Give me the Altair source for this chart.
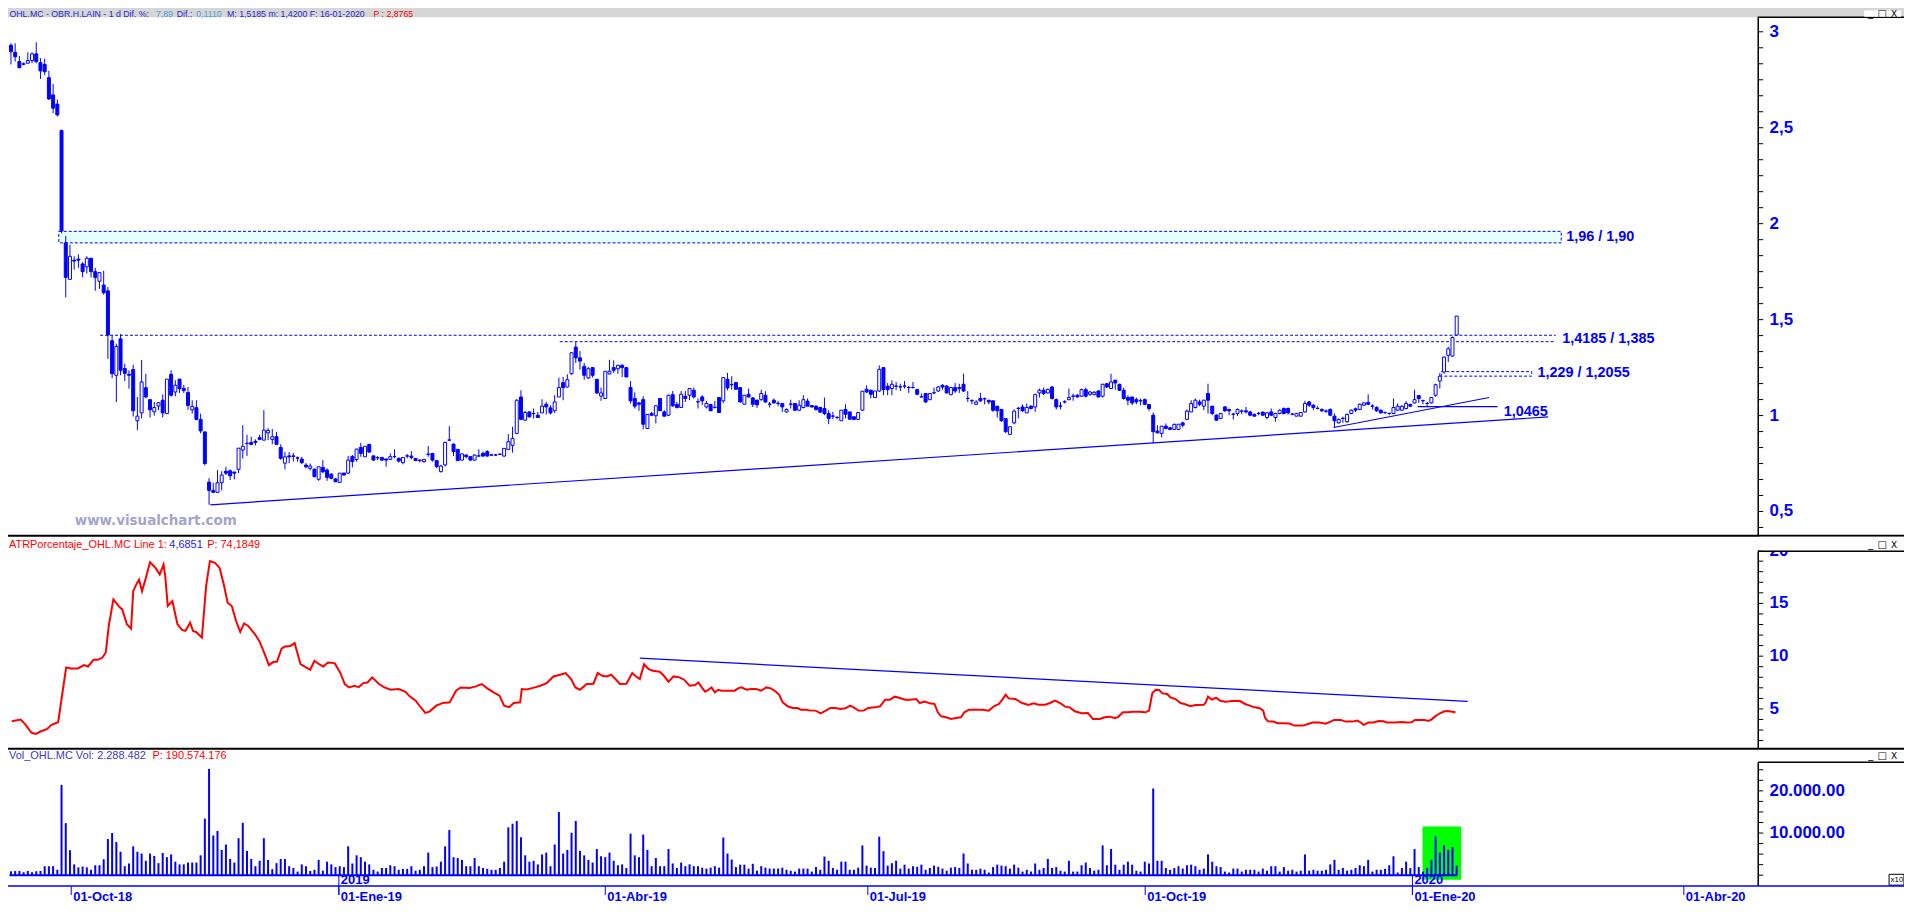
import altair as alt
import pandas as pd

# ---------------- data ----------------
price_open = [
2.930,2.893,2.845,2.833,2.836,2.850,2.885,2.839,2.830,2.761,
2.671,2.623,2.486,1.900,1.710,1.810,1.815,1.790,1.775,1.820,
1.750,1.700,1.680,1.650,1.390,1.210,1.400,1.245,1.215,1.240,
0.973,1.014,1.145,1.083,1.020,1.050,1.080,1.010,1.215,1.123,
1.190,1.142,1.120,1.030,1.041,0.980,0.915,0.653,0.610,0.600,
0.650,0.710,0.712,0.706,0.720,0.820,0.855,0.860,0.866,0.885,
0.872,0.910,0.876,0.890,0.834,0.752,0.790,0.790,0.780,0.773,
0.742,0.725,0.720,0.668,0.730,0.716,0.695,0.670,0.652,0.700,
0.700,0.787,0.771,0.834,0.785,0.850,0.790,0.781,0.782,0.774,
0.772,0.787,0.777,0.755,0.790,0.789,0.777,0.768,0.760,0.799,
0.803,0.765,0.708,0.743,0.873,0.851,0.824,0.768,0.794,0.786,
0.768,0.790,0.803,0.812,0.795,0.795,0.799,0.789,0.824,0.845,
0.907,1.097,0.976,1.019,1.011,1.002,1.014,1.059,1.040,1.025,
1.097,1.172,1.149,1.218,1.357,1.301,1.256,1.196,1.250,1.189,
1.102,1.089,1.217,1.250,1.244,1.262,1.250,1.146,1.089,1.066,
1.083,0.933,1.011,0.999,1.089,1.019,1.002,1.109,1.058,1.042,
1.101,1.106,1.132,1.072,1.097,1.045,1.058,1.043,1.094,1.077,
1.189,1.162,1.172,1.146,1.059,1.111,1.092,1.080,1.083,1.106,
1.060,1.080,1.064,1.063,1.019,1.060,1.063,1.028,1.042,1.075,
1.052,1.049,1.042,1.037,1.011,0.998,0.991,0.973,1.032,1.019,
0.994,0.980,1.028,1.137,1.132,1.094,1.128,1.250,1.153,1.141,
1.154,1.150,1.154,1.147,1.147,1.135,1.098,1.115,1.083,1.119,
1.128,1.158,1.154,1.109,1.146,1.146,1.163,1.090,1.078,1.059,
1.089,1.088,1.080,1.077,1.049,1.032,0.985,0.902,0.962,1.038,
1.045,1.014,1.049,1.045,1.118,1.132,1.118,1.149,1.083,1.050,
1.072,1.083,1.102,1.106,1.101,1.135,1.111,1.109,1.128,1.101,
1.166,1.141,1.184,1.163,1.132,1.094,1.097,1.083,1.078,1.083,
1.058,1.002,0.919,0.907,0.945,0.936,0.928,0.928,0.962,0.980,
1.019,1.042,1.071,1.049,1.115,1.049,1.002,0.985,1.045,1.032,
1.008,1.011,1.024,1.025,1.019,1.006,1.012,1.018,0.990,1.019,
0.990,1.011,1.037,1.037,1.008,0.997,0.997,1.019,1.071,1.054,
1.038,1.032,1.024,1.032,0.997,0.962,0.986,0.968,1.011,1.035,
1.032,1.054,1.068,1.050,1.042,1.028,1.017,1.012,1.011,1.028,
1.028,1.037,1.058,1.066,1.104,1.078,1.064,1.066,1.106,1.180,
1.227,1.314,1.310,1.420]

price_high = [
2.940,2.940,2.874,2.840,2.893,2.893,2.945,2.862,2.860,2.797,
2.728,2.647,2.490,1.936,1.890,1.830,1.840,1.800,1.830,1.820,
1.770,1.745,1.755,1.670,1.420,1.375,1.425,1.270,1.236,1.265,
1.097,1.290,1.218,1.083,1.070,1.070,1.110,1.190,1.236,1.184,
1.190,1.160,1.149,1.080,1.080,1.010,0.915,0.674,0.650,0.716,
0.710,0.733,0.720,0.706,0.830,0.950,0.900,0.890,0.876,0.900,
1.028,0.935,0.930,0.915,0.850,0.810,0.810,0.805,0.787,0.785,
0.752,0.750,0.725,0.733,0.768,0.725,0.700,0.672,0.700,0.703,
0.790,0.795,0.828,0.858,0.840,0.850,0.790,0.789,0.782,0.774,
0.803,0.824,0.782,0.782,0.800,0.815,0.777,0.772,0.772,0.841,
0.803,0.765,0.743,0.864,0.945,0.855,0.824,0.803,0.800,0.786,
0.798,0.824,0.812,0.820,0.800,0.800,0.803,0.829,0.903,0.942,
1.085,1.132,1.025,1.023,1.037,1.019,1.085,1.071,1.054,1.106,
1.198,1.201,1.215,1.331,1.383,1.336,1.274,1.253,1.250,1.189,
1.146,1.231,1.291,1.288,1.265,1.267,1.250,1.180,1.121,1.071,
1.101,1.006,1.019,1.054,1.089,1.028,1.109,1.128,1.071,1.128,
1.128,1.141,1.146,1.089,1.106,1.077,1.058,1.077,1.097,1.198,
1.222,1.205,1.175,1.146,1.106,1.141,1.097,1.083,1.135,1.127,
1.071,1.089,1.077,1.066,1.037,1.083,1.063,1.080,1.106,1.089,
1.054,1.054,1.045,1.094,1.028,1.019,0.997,1.028,1.059,1.019,
0.994,1.019,1.127,1.158,1.135,1.128,1.262,1.250,1.170,1.184,
1.175,1.166,1.180,1.153,1.175,1.141,1.115,1.115,1.118,1.146,
1.153,1.163,1.158,1.146,1.170,1.166,1.218,1.127,1.085,1.080,
1.118,1.094,1.080,1.077,1.049,1.032,0.985,0.942,1.032,1.045,
1.059,1.063,1.054,1.115,1.141,1.146,1.141,1.153,1.089,1.071,
1.080,1.141,1.115,1.111,1.141,1.146,1.128,1.128,1.132,1.166,
1.170,1.218,1.187,1.166,1.146,1.106,1.097,1.094,1.089,1.089,
1.058,1.016,0.950,0.945,0.959,0.942,0.959,0.955,0.968,1.032,
1.080,1.089,1.083,1.083,1.166,1.049,1.007,1.014,1.049,1.035,
1.014,1.037,1.032,1.045,1.025,1.011,1.019,1.021,1.019,1.037,
1.014,1.032,1.042,1.042,1.014,1.014,1.019,1.077,1.077,1.059,
1.049,1.037,1.032,1.037,1.011,0.985,0.994,1.011,1.032,1.042,
1.063,1.068,1.111,1.059,1.049,1.032,1.019,1.014,1.089,1.063,
1.054,1.075,1.063,1.135,1.104,1.083,1.071,1.097,1.166,1.222,
1.308,1.360,1.412,1.5185]

price_low = [
2.830,2.845,2.810,2.825,2.836,2.836,2.836,2.754,2.775,2.645,
2.576,2.559,1.950,1.616,1.710,1.760,1.770,1.720,1.740,1.720,
1.650,1.660,1.630,1.296,1.195,1.070,1.210,1.180,1.140,0.995,
0.924,0.985,1.090,0.990,1.000,1.028,0.990,1.010,1.100,1.100,
1.118,1.118,1.030,1.010,0.976,0.907,0.740,0.535,0.600,0.600,
0.610,0.690,0.664,0.668,0.700,0.776,0.790,0.845,0.845,0.872,
0.872,0.872,0.850,0.850,0.770,0.720,0.752,0.762,0.760,0.747,
0.725,0.714,0.678,0.660,0.700,0.660,0.668,0.655,0.648,0.688,
0.695,0.730,0.760,0.785,0.785,0.806,0.765,0.768,0.763,0.734,
0.768,0.777,0.755,0.746,0.777,0.772,0.765,0.756,0.755,0.786,
0.760,0.725,0.703,0.734,0.869,0.789,0.765,0.765,0.777,0.765,
0.765,0.786,0.786,0.786,0.789,0.789,0.794,0.786,0.820,0.807,
0.904,0.980,0.973,0.988,0.985,0.988,1.014,1.006,1.006,1.014,
1.097,1.080,1.146,1.213,1.274,1.239,1.187,1.191,1.198,1.111,
1.077,1.089,1.215,1.222,1.218,1.201,1.201,1.063,1.037,1.025,
0.928,0.933,0.997,0.959,1.025,0.994,0.997,1.045,1.037,1.042,
1.071,1.080,1.089,1.037,1.054,1.037,1.025,1.037,1.014,1.066,
1.132,1.135,1.135,1.068,1.059,1.094,1.045,1.040,1.077,1.066,
1.042,1.063,1.049,1.019,1.016,1.037,1.023,1.023,1.037,1.049,
1.042,1.025,1.014,1.002,0.955,0.981,0.980,0.973,0.985,0.980,
0.980,0.980,1.025,1.118,1.089,1.092,1.123,1.106,1.106,1.106,
1.132,1.128,1.141,1.118,1.141,1.106,1.094,1.066,1.080,1.111,
1.123,1.135,1.115,1.106,1.118,1.118,1.123,1.071,1.059,1.054,
1.071,1.059,1.059,1.019,0.990,0.968,0.910,0.898,0.955,0.985,
1.019,1.014,1.032,1.019,1.094,1.106,1.115,1.083,1.032,1.032,
1.063,1.080,1.077,1.094,1.097,1.094,1.102,1.106,1.094,1.094,
1.144,1.141,1.135,1.128,1.083,1.054,1.054,1.059,1.054,1.054,
1.025,0.855,0.907,0.886,0.928,0.924,0.924,0.924,0.938,0.976,
1.019,1.037,1.049,1.028,1.011,1.002,0.973,0.981,1.019,1.002,
0.980,0.997,1.007,1.011,0.997,0.994,1.002,0.997,0.981,0.997,
0.968,1.006,1.006,1.006,1.002,0.997,0.994,1.016,1.045,1.028,
1.032,1.019,1.014,0.997,0.938,0.959,0.962,0.962,1.007,1.019,
1.028,1.049,1.054,1.032,1.019,1.011,1.007,1.002,1.007,1.025,
1.025,1.032,1.045,1.063,1.066,1.059,1.049,1.063,1.097,1.141,
1.218,1.279,1.308,1.420]

price_close = [
2.896,2.870,2.813,2.831,2.850,2.885,2.845,2.796,2.792,2.650,
2.602,2.567,1.962,1.720,1.830,1.805,1.810,1.750,1.820,1.750,
1.720,1.745,1.640,1.420,1.218,1.360,1.236,1.220,1.210,1.025,
0.997,1.175,1.097,1.030,1.042,1.067,1.014,1.190,1.106,1.158,
1.140,1.130,1.053,1.048,0.980,0.920,0.750,0.610,0.600,0.650,
0.690,0.700,0.686,0.700,0.830,0.840,0.854,0.850,0.860,0.876,
0.924,0.922,0.890,0.850,0.777,0.785,0.785,0.787,0.778,0.755,
0.733,0.737,0.682,0.733,0.707,0.678,0.673,0.655,0.700,0.690,
0.768,0.760,0.825,0.803,0.840,0.810,0.768,0.780,0.768,0.768,
0.786,0.786,0.763,0.782,0.789,0.782,0.765,0.765,0.772,0.798,
0.768,0.734,0.737,0.860,0.872,0.812,0.765,0.800,0.786,0.768,
0.794,0.789,0.789,0.789,0.794,0.794,0.798,0.829,0.864,0.881,
1.080,0.980,1.016,0.994,1.010,0.990,1.049,1.045,1.014,1.071,
1.146,1.146,1.187,1.327,1.301,1.284,1.210,1.244,1.210,1.118,
1.118,1.231,1.231,1.236,1.262,1.250,1.201,1.077,1.049,1.059,
0.955,1.006,1.002,1.051,1.025,0.997,1.106,1.051,1.042,1.111,
1.089,1.141,1.097,1.071,1.077,1.063,1.025,1.042,1.016,1.198,
1.144,1.161,1.137,1.071,1.106,1.097,1.059,1.056,1.115,1.071,
1.059,1.066,1.063,1.045,1.032,1.059,1.028,1.054,1.083,1.049,
1.045,1.032,1.018,1.011,0.985,0.997,0.990,1.028,1.007,0.981,
0.980,1.016,1.127,1.123,1.111,1.128,1.241,1.135,1.135,1.163,
1.153,1.149,1.153,1.146,1.146,1.111,1.097,1.071,1.115,1.118,
1.149,1.149,1.118,1.146,1.128,1.141,1.128,1.089,1.077,1.071,
1.077,1.087,1.071,1.028,1.025,0.973,0.916,0.942,1.023,1.037,
1.025,1.042,1.037,1.109,1.132,1.115,1.137,1.089,1.045,1.049,
1.071,1.094,1.101,1.097,1.135,1.101,1.123,1.121,1.097,1.163,
1.149,1.175,1.170,1.132,1.089,1.080,1.066,1.071,1.077,1.059,
1.037,0.916,0.910,0.945,0.933,0.928,0.954,0.955,0.950,1.023,
1.063,1.080,1.059,1.080,1.080,1.011,0.976,1.011,1.025,1.025,
1.007,1.032,1.023,1.019,1.002,0.997,1.011,1.002,1.014,1.002,
1.011,1.028,1.011,1.014,1.007,1.011,1.016,1.063,1.054,1.042,
1.037,1.025,1.023,1.002,0.973,0.980,0.985,1.006,1.028,1.028,
1.059,1.066,1.059,1.049,1.025,1.014,1.016,1.011,1.042,1.049,
1.049,1.063,1.049,1.083,1.089,1.077,1.063,1.094,1.161,1.205,
1.305,1.348,1.407,1.5185]

# volume, thousands of shares, one bar per session
volume_k = [
930,1000,1000,710,1000,710,930,1000,2140,2140,
2140,1290,21420,12350,5930,2570,1860,2070,1860,1290,
2360,2360,3780,8570,10000,7850,5570,2140,2780,6850,
5570,5140,3430,5140,4570,2860,5280,4280,4930,3210,
2570,2570,3000,3000,3000,4710,13420,25200,9420,10500,
6000,7280,3860,3000,8780,12420,5780,3860,2140,3430,
8780,3640,1430,2860,3860,3860,2140,1710,860,2570,
2140,1000,1290,3640,1070,3210,2570,1930,2140,1930,
6850,2780,4710,4280,3210,2570,1290,860,1710,1710,
2360,2140,1290,1500,1500,2140,1070,1290,2140,5360,
1930,2070,3210,6850,10710,4280,4070,3640,2140,2140,
4070,2140,1710,1500,1290,1290,1710,3210,11350,12210,
12850,9000,4710,3210,3430,2570,4930,5360,2140,7280,
14990,5140,6000,10070,12850,5780,4710,3640,3000,6210,
4500,4280,5360,3430,2360,2570,1710,9850,4710,4280,
9640,6000,2140,4070,2140,2140,6210,2780,1710,3000,
2140,2570,2140,2140,1790,1570,1790,2140,1790,8930,
5140,3710,1930,2500,2500,1570,2710,1070,2140,1790,
1570,1570,1570,1790,1290,1070,860,1570,1570,1570,
860,1930,1290,4430,3430,1710,1290,3210,3210,1290,
1290,1790,7070,2280,1790,1710,9140,5710,2280,2860,
3430,1570,2500,1570,2140,2000,2500,1290,1710,2280,
2000,1570,1070,1790,1930,1710,5140,2780,1290,1290,
1570,1290,640,1930,2500,2280,2140,1570,2500,1790,
860,1290,860,2780,1290,1710,3860,1710,1930,1070,
860,3430,860,860,2360,3000,1710,1070,1290,7070,
2360,6210,2500,1290,2500,3210,2500,1070,860,3210,
2780,20560,3430,3430,1710,1290,1710,2140,1570,2360,
2500,2140,1290,1570,4930,3210,2140,1930,860,640,
1570,1570,860,1290,1290,1290,860,1570,1070,2140,
2140,860,1930,1070,1290,860,1070,4930,1070,1290,
1070,1070,1290,2570,3640,1290,1710,1070,1290,1710,
2360,2140,3640,860,1290,1290,1500,2360,4500,640,
1710,3210,1710,6210,1930,860,1710,3640,9210,5360,
7070,6000,6640,2290]

# ATR % line: vertices (session position, value)
atr_day = [
0.2,2.3,3.3,4.9,5.9,7.0,8.6,9.6,11.2,12.0,13.1,14.3,15.9,17.3,18.3,19.6,20.6,21.7,22.5,23.2,
24.3,25.7,26.4,27.5,28.5,29.0,29.8,30.4,31.1,31.9,33.0,34.3,35.3,36.2,36.6,37.2,38.3,39.5,40.6,41.4,
42.5,43.2,43.9,45.3,46.3,47.2,48.4,49.5,50.5,51.4,52.4,53.4,54.4,55.3,56.3,57.9,58.9,60.0,61.2,62.3,
63.1,64.2,65.0,66.3,67.3,68.7,70.0,71.0,72.0,73.1,74.1,75.2,76.8,78.1,79.2,80.2,81.5,82.5,83.6,84.6,
85.7,87.3,88.6,90.1,92.0,93.6,94.6,96.0,97.2,98.3,99.3,100.9,102.5,104.1,105.6,106.7,108.8,110.3,111.7,113.0,
114.5,115.9,117.0,118.2,119.3,120.8,121.2,122.4,124.3,125.6,127.1,128.7,130.3,131.6,132.9,133.9,135.0,136.6,138.2,139.2,
140.3,141.3,142.4,143.4,144.5,146.0,147.4,148.1,149.2,150.2,151.3,152.3,153.9,154.9,156.0,157.2,158.6,159.7,161.0,162.3,
163.1,163.9,164.7,165.5,166.2,167.0,167.8,168.6,170.2,171.7,172.5,173.3,174.5,175.6,176.8,178.0,179.2,180.3,181.5,182.3,
183.1,184.3,185.4,186.6,187.4,188.6,189.7,190.9,192.1,193.3,194.4,195.6,196.8,198.0,199.1,199.9,201.1,202.3,203.4,205.0,
206.2,207.4,208.5,209.7,210.9,212.1,213.2,214.8,215.6,216.8,218.0,219.1,219.9,220.7,221.9,223.0,224.2,225.4,226.2,227.3,
228.9,230.5,232.0,233.2,234.4,235.2,236.0,236.7,238.3,239.9,241.4,242.6,243.8,245.4,246.5,247.7,248.9,250.1,251.2,252.4,
254.0,255.5,256.7,258.3,259.5,260.6,261.8,262.6,263.8,265.0,266.1,267.7,269.2,270.0,270.8,271.6,272.4,273.2,274.3,275.1,
276.3,277.5,278.6,279.8,281.0,281.8,283.0,283.4,284.0,284.9,285.9,286.9,288.1,289.2,290.0,291.6,292.8,293.9,295.1,296.3,
297.1,297.5,298.2,299.4,300.6,301.8,303.3,304.5,306.5,307.6,308.8,310.4,311.9,313.1,313.9,315.5,316.6,318.2,319.4,320.2,
320.9,322.1,323.3,324.5,325.7,326.4,328.4,330.0,331.1,332.3,333.1,335.4,336.2,337.0,337.8,339.0,340.1,340.9,342.7]
atr_pct = [
3.84,3.99,3.58,2.74,2.64,2.86,3.11,3.49,3.74,5.94,8.93,8.84,8.84,9.15,9.02,9.65,9.65,9.87,10.35,12.86,
15.38,14.68,14.43,13.02,12.61,16.16,16.85,17.26,16.16,17.26,18.90,18.36,17.73,18.68,17.58,14.75,15.22,13.02,12.48,12.39,
13.17,12.39,12.29,11.76,16.63,19.00,18.84,18.36,16.79,15.06,14.75,13.33,12.29,13.11,12.86,12.07,11.45,10.41,9.15,9.46,
9.46,10.72,10.91,10.97,11.23,9.24,8.93,8.71,9.56,9.24,9.02,9.40,9.34,8.46,7.36,7.04,7.20,7.07,7.45,7.51,
7.99,7.36,7.04,6.82,6.89,6.63,6.19,5.79,5.16,4.62,4.75,5.31,5.57,5.63,6.73,7.04,6.98,7.14,7.36,6.95,
6.57,6.26,5.31,5.16,5.57,5.63,6.89,6.85,7.04,7.20,7.45,8.08,8.24,8.40,7.83,7.04,6.82,7.36,7.39,8.40,
8.14,8.08,8.24,7.83,7.36,7.39,8.40,8.14,7.83,9.24,8.77,8.62,8.52,8.14,7.58,8.08,7.99,7.77,7.20,7.26,
7.51,7.04,6.63,6.82,7.04,6.57,6.82,6.73,6.73,6.73,6.95,7.04,6.82,6.88,6.88,6.73,7.04,6.95,6.63,6.32,
5.62,5.25,5.09,5.09,4.93,4.93,4.84,4.84,4.59,4.84,5.09,5.09,5.00,5.06,5.31,5.15,4.84,4.84,5.09,5.15,
5.25,5.88,5.88,6.16,6.03,5.88,5.88,5.94,5.56,5.69,5.53,5.47,4.68,4.30,4.21,4.05,4.15,4.21,4.68,4.93,
4.93,4.93,4.84,5.25,5.47,5.88,6.35,6.00,5.94,5.56,5.37,5.53,5.40,5.40,5.56,5.78,5.56,5.22,5.15,4.78,
4.59,4.62,4.05,4.05,4.21,4.27,4.15,4.21,4.68,4.68,4.74,4.74,4.68,4.84,6.50,6.82,6.79,6.47,6.41,6.10,
5.94,5.56,5.44,5.25,5.37,5.37,5.40,5.56,6.16,5.88,6.06,5.78,5.69,5.72,5.78,5.75,5.47,5.31,5.15,5.06,
4.84,4.21,3.83,3.80,3.64,3.64,3.61,3.42,3.42,3.55,3.71,3.71,3.61,3.80,3.96,3.96,3.80,3.80,3.90,3.74,
3.49,3.71,3.71,3.86,3.83,3.71,3.71,3.77,3.71,3.74,3.96,3.96,3.86,3.99,4.27,4.59,4.78,4.81,4.69]

# drawn levels and trend lines
zone_labels = ["1,96 / 1,90", "1,4185 / 1,385", "1,229 / 1,2055", "1,0465"]
zone_hi = [1.96, 1.4185, 1.229]
zone_lo = [1.90, 1.385, 1.2055]
support_level = 1.0465

month_ticks = [14.3, 77.8, 141.0, 203.3, 269.1, 332.5, 396.9]
month_labels = ["01-Oct-18", "01-Ene-19", "01-Abr-19", "01-Jul-19", "01-Oct-19", "01-Ene-20", "01-Abr-20"]
year_ticks = [77.8, 332.5]
year_labels = ["2019", "2020"]

price_tick_labels = ["3", "2,5", "2", "1,5", "1", "0,5"]
price_tick_values = [3, 2.5, 2, 1.5, 1, 0.5]
atr_tick_labels = ["20", "15", "10", "5"]
atr_tick_values = [20, 15, 10, 5]
vol_tick_labels = ["20.000.00", "10.000.00"]
vol_tick_values = [20000, 10000]

# ---------------- layout ----------------
# The page adds an 8px margin; a negative padding of -8 puts the drawing at the
# same page pixels as the reference. The volume panel is squeezed a little so
# that the date labels still fit in the window.
REF_W, REF_H = 1912, 922
W, H = 1912, 906
SPLIT = 750.0
K = (H - SPLIT) / (REF_H - SPLIT)

def px(x): return x
def py(y): return y if y <= SPLIT else SPLIT + (y - SPLIT) * K

X0, XSTEP = 6.0, 4.255          # reference x of session 0, px per session
P_Y3, P_UNIT = 30.0, 192.7      # reference y of price 3, px per unit
A_Y5, A_UNIT = 710.0, 10.6      # reference y of ATR 5, px per unit
V_Y0, V_UNIT = 890.0, 46.7 / 10000

def day_at(xr): return (xr - X0) / XSTEP
XD = [day_at(0), day_at(W)]
PD = [3 - (H - P_Y3) / P_UNIT, 3 + P_Y3 / P_UNIT]
AD = [5 - (H - A_Y5) / A_UNIT, 5 + A_Y5 / A_UNIT]
_vc = SPLIT + (V_Y0 - SPLIT) * K
VD = [-(H - _vc) / (V_UNIT * K), _vc / (V_UNIT * K)]

BLUE = "#0000ff"
RED = "#ff0000"
FONT = "Liberation Sans"
AXIS_X = 1765.6
ONE = pd.DataFrame({"k": [0]})

XS = alt.Scale(domain=XD, nice=False, zero=False)
def X(f): return alt.X(f, type="quantitative", scale=XS, axis=None)
def Y(f, dom): return alt.Y(f, type="quantitative", scale=alt.Scale(domain=dom, nice=False, zero=False), axis=None)

def drule(x1, x2, y1, y2, color="black", width=1.0, dash=None):
    kw = dict(color=color, strokeWidth=width)
    if dash:
        kw["strokeDash"] = dash
    return alt.Chart(ONE).mark_rule(**kw).encode(
        x=alt.value(px(x1)), x2=alt.value(px(x2)), y=alt.value(py(y1)), y2=alt.value(py(y2)))

def drect(x1, x2, y1, y2, **kw):
    return alt.Chart(ONE).mark_rect(**kw).encode(
        x=alt.value(px(x1)), x2=alt.value(px(x2)), y=alt.value(py(y1)), y2=alt.value(py(y2)))

def dtext(x, y, text, color, size=11.0, weight="normal", font=FONT, align="left", baseline="middle"):
    return alt.Chart(ONE).mark_text(text=text, color=color, fontSize=size, fontWeight=weight,
                                    font=font, align=align, baseline=baseline).encode(
        x=alt.value(px(x)), y=alt.value(py(y)))

layers = []

# header band of the price panel
layers.append(drect(0, REF_W, 0, 15.5, color="#d6d6d6"))

# ---- price panel overlays (behind candles) ----
z1 = pd.DataFrame({"a": [day_at(54.3)], "b": [day_at(1571)], "lo": [zone_lo[0]], "hi": [zone_hi[0]]})
layers.append(alt.Chart(z1).mark_rect(fill="#e6ffff", stroke=BLUE, strokeWidth=1, strokeDash=[3, 2]).encode(
    x=X("a"), x2="b", y=Y("lo", PD), y2="hi"))
z2 = pd.DataFrame({"a": [day_at(96), day_at(560)], "b": [day_at(1565.4)] * 2, "v": [zone_hi[1], zone_lo[1]]})
layers.append(alt.Chart(z2).mark_rule(color=BLUE, strokeWidth=1, strokeDash=[3, 2]).encode(
    x=X("a"), x2="b", y=Y("v", PD)))
z3 = pd.DataFrame({"a": [day_at(1450)], "b": [day_at(1541.2)], "lo": [zone_lo[2]], "hi": [zone_hi[2]]})
layers.append(alt.Chart(z3).mark_rect(fillOpacity=0, stroke=BLUE, strokeWidth=1, strokeDash=[3, 2]).encode(
    x=X("a"), x2="b", y=Y("lo", PD), y2="hi"))
sup = pd.DataFrame({"a": [day_at(1426)], "b": [day_at(1506.7)], "v": [support_level]})
layers.append(alt.Chart(sup).mark_rule(color=BLUE, strokeWidth=1.2).encode(x=X("a"), x2="b", y=Y("v", PD)))
trends = pd.DataFrame({"a": [47.3, 313.8], "b": [364.7, 350.7], "va": [0.535, 0.938], "vb": [0.993, 1.094]})
layers.append(alt.Chart(trends).mark_rule(color=BLUE, strokeWidth=1.2).encode(
    x=X("a"), x2="b", y=Y("va", PD), y2="vb"))

# ---- candles ----
n = len(price_close)
cd = pd.DataFrame({"day": list(range(n)), "o": price_open, "h": price_high, "l": price_low, "c": price_close})
cd["fill"] = ["white" if c >= o else BLUE for o, c in zip(cd["o"], cd["c"])]
layers.append(alt.Chart(cd).mark_rule(color=BLUE, strokeWidth=1).encode(x=X("day"), y=Y("l", PD), y2="h"))
layers.append(alt.Chart(cd).mark_bar(width=3, stroke=BLUE, strokeWidth=1).encode(
    x=X("day"), y=Y("o", PD), y2="c", fill=alt.Fill("fill:N", scale=None)))

# level labels
lab = pd.DataFrame({"day": [day_at(1576), day_at(1572), day_at(1547), day_at(1513)],
                    "v": [(zone_hi[0] + zone_lo[0]) / 2, (zone_hi[1] + zone_lo[1]) / 2 - 0.003,
                          (zone_hi[2] + zone_lo[2]) / 2 + 0.004, 1.019],
                    "t": zone_labels})
layers.append(alt.Chart(lab).mark_text(align="left", baseline="middle", color=BLUE, font=FONT,
                                       fontWeight="bold", fontSize=14.5).encode(x=X("day"), y=Y("v", PD), text="t:N"))
layers.append(dtext(75, 521, "www.visualchart.com", "#a4a4cc", size=13.5, weight="bold", font="DejaVu Sans"))

# ---- ATR panel ----
ad = pd.DataFrame({"day": atr_day, "v": atr_pct})
layers.append(alt.Chart(ad).mark_line(color=RED, strokeWidth=2).encode(x=X("day"), y=Y("v", AD)))
at = pd.DataFrame({"a": [149.2], "b": [345.6], "va": [9.81], "vb": [5.72]})
layers.append(alt.Chart(at).mark_rule(color=BLUE, strokeWidth=1.2).encode(x=X("a"), x2="b", y=Y("va", AD), y2="vb"))

# ---- Volume panel ----
g = pd.DataFrame({"a": [day_at(1431)], "b": [day_at(1470)], "lo": [-(895 - V_Y0) / V_UNIT], "hi": [(V_Y0 - 836) / V_UNIT]})
layers.append(alt.Chart(g).mark_rect(color="#00ff00").encode(x=X("a"), x2="b", y=Y("lo", VD), y2="hi"))
vd = pd.DataFrame({"day": list(range(len(volume_k))), "v": volume_k, "z": [0] * len(volume_k)})
layers.append(alt.Chart(vd).mark_rule(color=BLUE, strokeWidth=2).encode(x=X("day"), y=Y("z", VD), y2="v"))
base = pd.DataFrame({"a": [-0.35], "b": [n - 0.9], "v": [0]})
layers.append(alt.Chart(base).mark_rule(color=BLUE, strokeWidth=2).encode(x=X("a"), x2="b", y=Y("v", VD)))

# ---- frames / separators ----
layers.append(drule(0, REF_W, 536, 536, "black", 2))
layers.append(drule(0, REF_W, 750, 750, "black", 2))
layers.append(drule(AXIS_X, AXIS_X, 15, 536, "black", 1.5))
layers.append(drule(AXIS_X, AXIS_X, 551.7, 750, "black", 1.5))
layers.append(drule(AXIS_X, AXIS_X, 765, 902, "black", 1.5))
layers.append(drule(AXIS_X, REF_W, 15.5, 15.5, "black", 1.5))

# right axes: ticks and labels
def ticks(values, dom):
    t = pd.DataFrame({"v": values})
    return alt.Chart(t).mark_rule(color="black", strokeWidth=1).encode(
        x=alt.value(px(AXIS_X)), x2=alt.value(px(AXIS_X + 5)), y=Y("v", dom))

def tlabels(values, labels, dom):
    t = pd.DataFrame({"v": values, "t": labels})
    return alt.Chart(t).mark_text(align="left", baseline="middle", color=BLUE, font=FONT,
                                  fontWeight="bold", fontSize=17).encode(
        x=alt.value(px(1777)), y=Y("v", dom), text="t:N")

layers.append(ticks([k / 12 for k in range(5, 37)], PD))
layers.append(tlabels(price_tick_values, price_tick_labels, PD))
layers.append(ticks(list(range(2, 21)), AD))
layers.append(tlabels(atr_tick_values, atr_tick_labels, AD))
layers.append(ticks(list(range(0, 25001, 2500)), VD))
layers.append(tlabels(vol_tick_values, vol_tick_labels, VD))

# cover the clipped part of the ATR top label, then the axis box borders
layers.append(drect(AXIS_X + 1, REF_W, 537, 551.2, color="white"))
layers.append(drule(AXIS_X, REF_W, 551.7, 551.7, "black", 1.5))
layers.append(drule(AXIS_X, REF_W, 765, 765, "black", 1.5))

# "x10" box
layers.append(drect(1897, 1912, 889, 901, fill="white", stroke="black", strokeWidth=1))
layers.append(dtext(1898.5, 895.5, "x10", "black", size=8))

# ---- x axis ----
layers.append(drule(0, REF_W, 902, 902, BLUE, 1.5))
mt = pd.DataFrame({"day": month_ticks, "t": month_labels})
layers.append(alt.Chart(mt).mark_rule(color=BLUE, strokeWidth=1).encode(
    x=X("day"), y=alt.value(py(902)), y2=alt.value(py(912))))
layers.append(alt.Chart(mt).mark_text(align="left", baseline="top", dx=2, color=BLUE, font=FONT,
                                      fontWeight="bold", fontSize=13).encode(
    x=X("day"), y=alt.value(py(907)), text="t:N"))
yt = pd.DataFrame({"day": year_ticks, "t": year_labels})
layers.append(alt.Chart(yt).mark_rule(color=BLUE, strokeWidth=1).encode(
    x=X("day"), y=alt.value(py(889)), y2=alt.value(py(912))))
layers.append(alt.Chart(yt).mark_text(align="left", baseline="alphabetic", dx=2, color=BLUE, font=FONT,
                                      fontWeight="bold", fontSize=13).encode(
    x=X("day"), y=alt.value(py(900)), text="t:N"))

# ---- headers ----
HB = "#2424d8"
LB = "#4a9fe6"
for x, t, c in [(9.5, "OHL.MC - OBR.H.LAIN -  1 d  Dif. %:", HB), (156.5, "7,89", LB), (177.5, "Dif.:", HB),
                (197, "0,1110", LB), (228, "M: 1,5185  m: 1,4200  F: 16-01-2020", HB), (375, "P : 2,8765", RED)]:
    layers.append(dtext(x, 12, t, c, size=8.8))
for x, t, c in [(9, "ATRPorcentaje_OHL.MC  Line 1:", RED), (170, "4,6851", HB), (208, "P: 74,1849", RED)]:
    layers.append(dtext(x, 545, t, c))
for x, t, c in [(9, "Vol_OHL.MC  Vol: 2.288.482", "#3b3bcc"), (153, "P: 190.574.176", RED)]:
    layers.append(dtext(x, 758, t, c))

# window buttons
layers.append(drect(1872, 1909, 8.5, 15, color="white"))
for yy in [12, 545, 758]:
    layers.append(dtext(1878.5, yy - 1, "_", "black", size=10, align="center", font="DejaVu Sans"))
    layers.append(dtext(1890, yy, "\u25a1", "black", size=10, align="center", font="DejaVu Sans"))
    layers.append(dtext(1902, yy, "X", "black", size=9, align="center", font="DejaVu Sans"))

chart = alt.layer(*layers).resolve_scale(y="independent").properties(
    width=W, height=H,
    padding={"left": -8, "top": -8, "right": 0, "bottom": 0},
    autosize=alt.AutoSizeParams(type="none"),
).configure_view(stroke=None)

chart.save("out.html", embed_options={"renderer": "svg", "actions": False})
